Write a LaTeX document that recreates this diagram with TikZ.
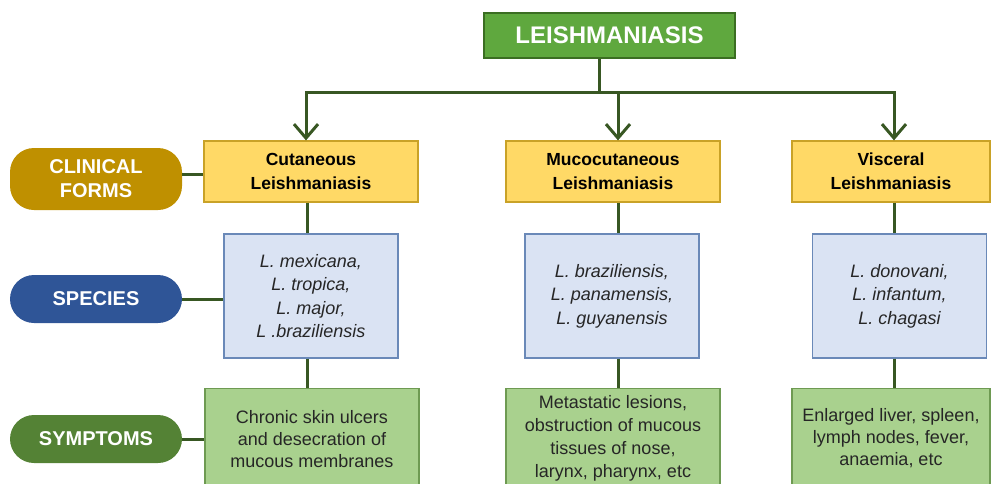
\documentclass[tikz,border=0pt]{standalone}
\usepackage{fontspec}
\setmainfont{Liberation Sans}
\usetikzlibrary{arrows.meta}
\definecolor{titlegreen}{HTML}{5FA83E}
\definecolor{titleborder}{HTML}{3B6E22}
\definecolor{yel}{HTML}{FFD966}
\definecolor{yelborder}{HTML}{C9A227}
\definecolor{bluebox}{HTML}{DAE3F3}
\definecolor{blueborder}{HTML}{6A89B8}
\definecolor{greenbox}{HTML}{A9D18E}
\definecolor{greenborder}{HTML}{6E9A52}
\definecolor{pillgold}{HTML}{BF9000}
\definecolor{pillblue}{HTML}{2F5597}
\definecolor{pillgreen}{HTML}{548235}
\definecolor{conn}{HTML}{385723}
\definecolor{txt}{HTML}{262626}
\tikzset{
  boxbase/.style={rectangle, inner sep=0pt, line width=1.2pt, align=center, text=txt},
  titlebox/.style={boxbase, fill=titlegreen, draw=titleborder, minimum width=251pt, minimum height=45pt,
    font=\fontsize{24}{26}\selectfont\bfseries, text=white},
  formbox/.style={boxbase, fill=yel, draw=yelborder, minimum width=214pt, minimum height=61pt,
    font=\fontsize{17.5}{24}\selectfont\bfseries, text=black},
  specbox/.style={boxbase, fill=bluebox, draw=blueborder, minimum width=174pt, minimum height=124pt,
    font=\fontsize{18}{23.5}\selectfont\itshape},
  symbox/.style={boxbase, fill=greenbox, draw=greenborder, minimum width=214pt, minimum height=102pt,
    font=\fontsize{18}{22.5}\selectfont},
  pill/.style={rectangle, rounded corners=24pt, minimum width=172pt, inner sep=0pt, align=center,
    text=white, font=\fontsize{20}{24}\selectfont\bfseries},
  conline/.style={draw=conn, line width=3pt},
  arr/.style={conline, -{Straight Barb[length=14pt, width=24pt, line width=3pt]}}
}
\begin{document}
\begin{tikzpicture}[x=1pt, y=-1pt]
\useasboundingbox (0,0) rectangle (997,483);
\clip (0,0) rectangle (997,483);
% title
\node[titlebox] (title) at (609.5,35.5) {LEISHMANIASIS};
% row pills
\node[pill, fill=pillgold, minimum height=62pt] (pforms) at (96,179) {CLINICAL\\FORMS};
\node[pill, fill=pillblue, minimum height=48pt] (pspec) at (96,299) {SPECIES};
\node[pill, fill=pillgreen, minimum height=48pt] (psym) at (96,439) {SYMPTOMS};
% clinical forms
\node[formbox] (f1) at (311,171.5) {Cutaneous\\Leishmaniasis};
\node[formbox] (f2) at (613,171.5) {Mucocutaneous\\Leishmaniasis};
\node[formbox, minimum width=198pt] (f3) at (891,171.5) {Visceral\\Leishmaniasis};
% species
\node[specbox] (s1) at (311,296) {L. mexicana,\\L. tropica,\\L. major,\\L .braziliensis};
\node[specbox] (s2) at (612,296) {L. braziliensis,\\L. panamensis,\\L. guyanensis};
\node[specbox] (s3) at (899.5,296) {L. donovani,\\L. infantum,\\L. chagasi};
% symptoms
\node[symbox, anchor=north] (y1) at (312,388) {};
\node[symbox, anchor=north] (y2) at (613,388) {};
\node[symbox, anchor=north, minimum width=198pt] (y3) at (891,388) {};
\node[align=center, text=txt, font=\fontsize{18}{22}\selectfont] (t1) at (312,439) {Chronic skin ulcers\\and desecration of\\mucous membranes};
\node[align=center, text=txt, font=\fontsize{18}{23}\selectfont] (t2) at (613,438) {Metastatic lesions,\\obstruction of mucous\\tissues of nose,\\larynx, pharynx, etc};
\node[align=center, text=txt, font=\fontsize{18}{22}\selectfont] (t3) at (891,438) {Enlarged liver, spleen,\\lymph nodes, fever,\\anaemia, etc};
% connectors from title
\coordinate (tb) at (599,92);
\draw[conline] (title.south -| tb) -- (tb);
\draw[arr] (tb) -- (306,92) -- (f1.north -| 306,0);
\draw[arr] (tb) -- (618,92) -- (f2.north -| 618,0);
\draw[arr] (tb) -- (894,92) -- (f3.north -| 894,0);
% vertical connectors
\draw[conline] (f1.south -| 307,0) -- (s1.north -| 307,0);
\draw[conline] (s1.south -| 307,0) -- (y1.north -| 307,0);
\draw[conline] (f2.south -| 618,0) -- (s2.north -| 618,0);
\draw[conline] (s2.south -| 618,0) -- (y2.north -| 618,0);
\draw[conline] (f3.south -| 894,0) -- (s3.north -| 894,0);
\draw[conline] (s3.south -| 894,0) -- (y3.north -| 894,0);
% pills to boxes
\draw[conline] (pforms.east |- 0,174) -- (f1.west |- 0,174);
\draw[conline] (pspec.east) -- (s1.west |- pspec.east);
\draw[conline] (psym.east) -- (y1.west |- psym.east);
\end{tikzpicture}
\end{document}
